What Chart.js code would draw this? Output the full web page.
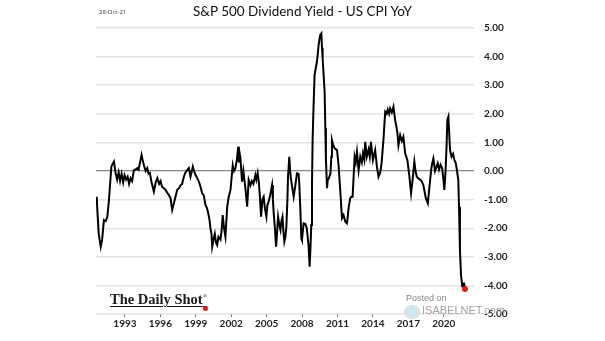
<!DOCTYPE html>
<html lang="en">
<head>
  <meta charset="UTF-8" />
  <title>S&amp;P 500 Dividend Yield - US CPI YoY</title>
  <script src="https://cdn.jsdelivr.net/npm/chart.js@4.4.1/dist/chart.umd.min.js"></script>
  <style>
    body { margin: 0; background: #fff; }
    .wrap { position: relative; width: 605px; height: 341px; overflow: hidden; }
    canvas { position: absolute; left: 0; top: 0; }
    .title {
      position: absolute; left: 0; width: 605px; top: 3px;
      text-align: center; font: 13.5px Lato, "Open Sans", sans-serif; color: #111;
    }
    .date { position: absolute; left: 99px; top: 8px; font: 6px "Open Sans", sans-serif; color: #333; }
    .dailyshot {
      position: absolute; left: 110px; top: 291px;
      font: bold 14.5px "Liberation Serif", "DejaVu Serif", serif; color: #1a1a1a;
      text-decoration: underline; text-decoration-thickness: 1px; text-underline-offset: 2px;
      letter-spacing: 0px;
    }
    .dailyshot sup { font-size: 6px; font-weight: normal; vertical-align: 6px; }
    .reddot { position: absolute; left: 203px; top: 306px; width: 5px; height: 5px; border-radius: 50%; background: #e21b1b; }
    .posted { position: absolute; left: 406px; top: 293px; font: 9px "Liberation Sans", sans-serif; color: #888; }
    .isabel { position: absolute; left: 422px; top: 304px; font: 11px "Liberation Sans", sans-serif; color: #999; opacity: .9; }
    .bird { position: absolute; left: 404px; top: 305px; width: 14px; height: 12px; border-radius: 50%; background: #cfe6f5; border: 1px solid #ddd; }
  </style>
</head>
<body>
<div class="wrap">
  <canvas id="chart" width="605" height="341"></canvas>
  <div class="title">S&amp;P 500 Dividend Yield - US CPI YoY</div>
  <div class="date">28-Oct-21</div>
  <div class="dailyshot">The Daily Shot<sup>®</sup></div>
  <div class="reddot"></div>
  <div class="posted">Posted on</div>
  <div class="bird"></div>
  <div class="isabel">ISABELNET.com</div>
</div>
<script>
// dates as decimal years, values = dividend yield minus CPI YoY (pct points)
const years = [
  1990.61, 1990.67, 1990.78, 1990.95, 1991.07, 1991.22, 1991.37, 1991.51, 1991.65, 1991.85,
  1991.96, 1992.07, 1992.21, 1992.34, 1992.47, 1992.59, 1992.72, 1992.85, 1992.97, 1993.10,
  1993.23, 1993.35, 1993.48, 1993.61, 1993.76, 1993.90, 1994.05, 1994.16, 1994.28, 1994.41,
  1994.49, 1994.61, 1994.75, 1994.89, 1995.00, 1995.11, 1995.26, 1995.45, 1995.60, 1995.74,
  1995.89, 1996.02, 1996.14, 1996.30, 1996.44, 1996.57, 1996.72, 1996.86, 1997.00, 1997.16,
  1997.43, 1997.58, 1997.71, 1997.84, 1997.99, 1998.13, 1998.27, 1998.41, 1998.55, 1998.64,
  1998.75, 1998.85, 1998.98, 1999.12, 1999.26, 1999.40, 1999.54, 1999.68, 1999.82, 1999.95,
  2000.05, 2000.16, 2000.24, 2000.33, 2000.39, 2000.50, 2000.61, 2000.71, 2000.81, 2000.92,
  2001.09, 2001.18, 2001.28, 2001.39, 2001.51, 2001.66, 2001.79, 2001.94, 2002.04, 2002.13,
  2002.23, 2002.36, 2002.48, 2002.59, 2002.65, 2002.72, 2002.78, 2002.92, 2003.03, 2003.20,
  2003.35, 2003.48, 2003.63, 2003.75, 2003.88, 2004.05, 2004.13, 2004.24, 2004.34, 2004.41,
  2004.53, 2004.64, 2004.75, 2004.85, 2004.98, 2005.06, 2005.17, 2005.32, 2005.46, 2005.53,
  2005.60, 2005.70, 2005.80, 2005.89, 2005.97, 2006.08, 2006.17, 2006.25, 2006.34, 2006.42,
  2006.50, 2006.59, 2006.67, 2006.76, 2006.81, 2006.92, 2006.99, 2007.07, 2007.18, 2007.29,
  2007.43, 2007.57, 2007.71, 2007.77, 2007.85, 2007.94, 2007.99, 2008.13, 2008.27, 2008.40,
  2008.55, 2008.64, 2008.72, 2008.78, 2008.84, 2008.89, 2008.95, 2009.06, 2009.16, 2009.26,
  2009.33, 2009.40, 2009.47, 2009.54, 2009.63, 2009.69, 2009.74, 2009.82, 2009.91, 2009.97,
  2010.02, 2010.11, 2010.18, 2010.26, 2010.40, 2010.48, 2010.53, 2010.64, 2010.76, 2010.96,
  2011.09, 2011.24, 2011.38, 2011.51, 2011.66, 2011.80, 2011.87, 2011.94, 2012.08, 2012.17,
  2012.28, 2012.45, 2012.55, 2012.65, 2012.79, 2012.93, 2013.06, 2013.16, 2013.27, 2013.35,
  2013.48, 2013.63, 2013.73, 2013.83, 2014.00, 2014.19, 2014.34, 2014.47, 2014.62, 2014.74,
  2014.89, 2015.04, 2015.16, 2015.25, 2015.37, 2015.46, 2015.60, 2015.74, 2015.88, 2015.97,
  2016.08, 2016.16, 2016.31, 2016.45, 2016.58, 2016.73, 2016.92, 2017.09, 2017.23, 2017.36,
  2017.51, 2017.61, 2017.71, 2017.85, 2017.99, 2018.12, 2018.27, 2018.48, 2018.65, 2018.76,
  2018.93, 2019.01, 2019.12, 2019.26, 2019.39, 2019.49, 2019.60, 2019.73, 2019.86, 2019.97,
  2020.05, 2020.15, 2020.24, 2020.30, 2020.39, 2020.45, 2020.53, 2020.66, 2020.79, 2020.90,
  2021.00, 2021.09, 2021.23, 2021.29, 2021.37, 2021.46, 2021.57, 2021.63, 2021.71, 2021.80
];
const spread = [
  -0.90, -1.42, -2.20, -2.65, -2.40, -1.71, -1.75, -1.60, -1.00, 0.15,
  0.25, 0.33, -0.07, -0.30, -0.05, -0.35, -0.10, -0.40, -0.15, -0.30,
  -0.20, -0.45, -0.25, -0.35, 0.03, 0.05, 0.10, 0.05, 0.30, 0.56,
  0.40, 0.20, 0.00, 0.10, -0.10, -0.07, -0.40, -0.72, -0.40, -0.25,
  -0.45, -0.35, -0.55, -0.60, -0.66, -0.75, -0.84, -0.95, -1.36, -1.10,
  -0.66, -0.60, -0.50, -0.45, -0.20, -0.05, 0.03, 0.10, -0.20, -0.05,
  0.15, 0.00, -0.14, -0.25, -0.37, -0.55, -0.78, -0.85, -1.19, -1.30,
  -1.47, -1.70, -2.00, -2.20, -2.65, -2.40, -2.20, -2.50, -2.59, -2.30,
  -2.40, -2.10, -1.54, -2.00, -2.30, -1.25, -0.90, -0.66, -0.20, 0.20,
  0.00, 0.10, 0.40, 0.85, 0.30, 0.60, 0.45, -0.37, 0.00, -0.60,
  -1.25, -0.31, -0.50, -0.35, -0.45, -0.14, -0.30, -0.07, -0.40, -0.78,
  -1.60, -1.00, -0.90, -1.30, -1.60, -1.20, -1.07, -0.80, -0.49, -1.00,
  -1.48, -2.00, -2.65, -2.10, -1.60, -1.90, -2.06, -1.75, -1.60, -2.10,
  -2.47, -2.30, -1.95, -1.00, -0.20, 0.50, 0.00, -0.31, -0.60, -0.90,
  -0.50, -0.08, -0.10, -0.49, -1.30, -2.35, -2.41, -1.83, -1.85, -2.00,
  -2.60, -3.35, -2.60, -1.89, -0.50, 1.00, 1.96, 3.36, 3.60, 3.82,
  4.10, 4.40, 4.60, 4.76, 4.81, 4.30, 3.94, 3.40, 2.77, 1.50,
  0.44, -0.60, -0.30, -0.26, -0.10, 0.50, 1.08, 0.90, 0.79, 0.73,
  0.21, -0.72, -1.65, -1.54, -1.77, -1.83, -1.60, -1.30, -0.95, -0.90,
  -0.90, 0.50, 0.30, 0.67, 0.03, 0.50, 0.30, 0.62, 0.40, 1.02,
  0.50, 0.75, 0.50, 1.02, 0.38, 0.73, 0.15, -0.20, -0.05, 0.30,
  1.08, 2.07, 2.00, 2.15, 2.00, 2.19, 2.05, 2.25, 1.78, 1.60,
  1.32, 0.90, 1.25, 1.05, 1.20, 0.62, 0.38, -0.20, -0.78, -0.30,
  0.33, 0.00, -0.20, -0.26, -0.30, -0.35, -0.49, -0.95, -1.13, -0.66,
  0.03, 0.25, 0.44, 0.00, 0.15, 0.27, 0.05, 0.22, 0.10, -0.30,
  -0.66, 0.00, 0.90, 1.78, 1.90, 1.40, 0.73, 0.50, 0.60, 0.38,
  0.30, 0.09, -0.31, -1.25, -2.76, -3.64, -4.04, -4.05, -3.90, -4.13
];
const yearTicks = [1993, 1996, 1999, 2002, 2005, 2008, 2011, 2014, 2017, 2020];

const points = years.map((y, i) => ({ x: y, y: spread[i] }));
const last = points.length - 1;

new Chart(document.getElementById('chart'), {
  type: 'line',
  data: {
    datasets: [{
      data: points,
      borderColor: '#000',
      borderWidth: 2,
      tension: 0,
      pointRadius: ctx => ctx.dataIndex === last ? 3 : 0,
      pointBackgroundColor: '#e21b1b',
      pointBorderWidth: 0
    }]
  },
  options: {
    responsive: false,
    animation: false,
    layout: { padding: { left: 96, top: 28, right: 0, bottom: 0 } },
    plugins: { legend: { display: false }, tooltip: { enabled: false } },
    scales: {
      x: {
        type: 'linear',
        min: 1990.55,
        max: 2022.56,
        afterBuildTicks: s => { s.ticks = yearTicks.map(v => ({ value: v })); },
        afterFit: s => { s.height = 27; },
        border: { display: false },
        grid: { drawOnChartArea: false, drawTicks: true, tickLength: 3, color: '#777' },
        ticks: {
          padding: 1,
          maxRotation: 0,
          autoSkip: false,
          color: '#222',
          font: { family: 'Lato, "Open Sans", sans-serif', size: 10, weight: 'bold' },
          callback: v => String(v)
        }
      },
      y: {
        position: 'right',
        min: -5,
        max: 5,
        afterFit: s => { s.width = 131; },
        border: { display: false },
        grid: {
          drawTicks: false,
          color: c => c.tick.value === 0 ? '#888' : '#e4e4e4',
          lineWidth: c => c.tick.value === 0 ? 1.2 : 1.4
        },
        ticks: {
          stepSize: 1,
          padding: 10,
          color: '#222',
          font: { family: 'Lato, "Open Sans", sans-serif', size: 10, weight: 'bold' },
          callback: v => v.toFixed(2)
        }
      }
    }
  }
});
</script>
</body>
</html>
